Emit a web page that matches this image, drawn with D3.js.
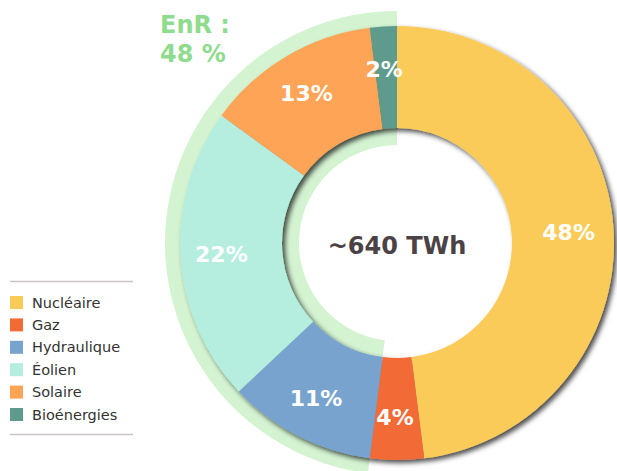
<!DOCTYPE html>
<html><head><meta charset="utf-8">
<script src="https://cdn.jsdelivr.net/npm/d3@7"></script>
<style>body{margin:0;background:#fff}</style>
</head><body>
<svg id="c" width="617" height="471"></svg>
<script>
const categories = ["Nucléaire","Gaz","Hydraulique","Éolien","Solaire","Bioénergies"];
const shares = [48,4,11,22,13,2];
const labels = ["48%","4%","11%","22%","13%","2%"];
const renewable = [false,false,true,true,true,true];
const colors = ["#FBCB5A","#F26B35","#78A3CF","#B5EDDF","#FDA456","#5F9B8C"];
const totalLabel = "~640 TWh";
const enrLines = ["EnR :","48 %"];

const svg = d3.select("#c");
const cx = 397, cy = 243, R = 217, r0 = 115;
const defs = svg.append("defs");
const f = defs.append("filter").attr("id","sh").attr("x","-20%").attr("y","-20%").attr("width","140%").attr("height","140%");
f.append("feDropShadow").attr("dx",3).attr("dy",3).attr("stdDeviation",2.5).attr("flood-color","#000").attr("flood-opacity",0.7);

const pie = d3.pie().sort(null).value(d=>d);
const arcs = pie(shares);
const g = svg.append("g").attr("transform",`translate(${cx},${cy})`);

// renewable share band (outer and inner)
const renArcs = arcs.filter((a,i)=>renewable[i]);
const a0 = d3.min(renArcs,a=>a.startAngle), a1 = d3.max(renArcs,a=>a.endAngle);
g.append("path").attr("d",d3.arc().innerRadius(R-2).outerRadius(R+15).startAngle(a0).endAngle(a1)()).attr("fill","#d3f3d1");
g.append("path").attr("d",d3.arc().innerRadius(r0-17).outerRadius(r0+2).startAngle(a0).endAngle(a1)()).attr("fill","#d3f3d1");

const arc = d3.arc().innerRadius(r0).outerRadius(R);
const dg = g.append("g").attr("filter","url(#sh)");
dg.selectAll("path").data(arcs).join("path").attr("d",arc).attr("fill",(d,i)=>colors[i]);

const lab = d3.arc().innerRadius(174).outerRadius(174);
g.selectAll("text.p").data(arcs).join("text").attr("class","p")
  .attr("x",d=>lab.centroid(d)[0]-2).attr("y",d=>lab.centroid(d)[1]+8)
  .attr("text-anchor","middle").attr("font-family","DejaVu Sans").attr("font-weight","bold")
  .attr("font-size",22).attr("fill","#fff").text((d,i)=>labels[i]);

g.append("text").attr("x",0).attr("y",11).attr("text-anchor","middle")
  .attr("font-family","DejaVu Sans").attr("font-weight","bold").attr("font-size",24)
  .attr("fill","#4a4245").text(totalLabel);

svg.selectAll("text.e").data(enrLines).join("text").attr("class","e")
  .attr("x",160).attr("y",(d,i)=>33+i*29).attr("font-family","DejaVu Sans").attr("font-weight","bold")
  .attr("font-size",24).attr("fill","#8fdc8e").text(d=>d);

// legend
const lg = svg.append("g");
lg.append("line").attr("x1",10).attr("x2",133).attr("y1",281.5).attr("y2",281.5).attr("stroke","#cbc1c6").attr("stroke-width",1.5);
lg.append("line").attr("x1",10).attr("x2",133).attr("y1",434.5).attr("y2",434.5).attr("stroke","#cbc1c6").attr("stroke-width",1.5);
const y = d3.scalePoint().domain(categories).range([302,414]);
lg.selectAll("rect").data(categories).join("rect").attr("x",10).attr("y",d=>y(d)-6).attr("width",13).attr("height",13).attr("fill",(d,i)=>colors[i]);
lg.selectAll("text").data(categories).join("text").attr("x",32).attr("y",d=>y(d)+5.5)
  .attr("font-family","DejaVu Sans").attr("font-size",14.5).attr("fill","#333").text(d=>d);
</script>
</body></html>
